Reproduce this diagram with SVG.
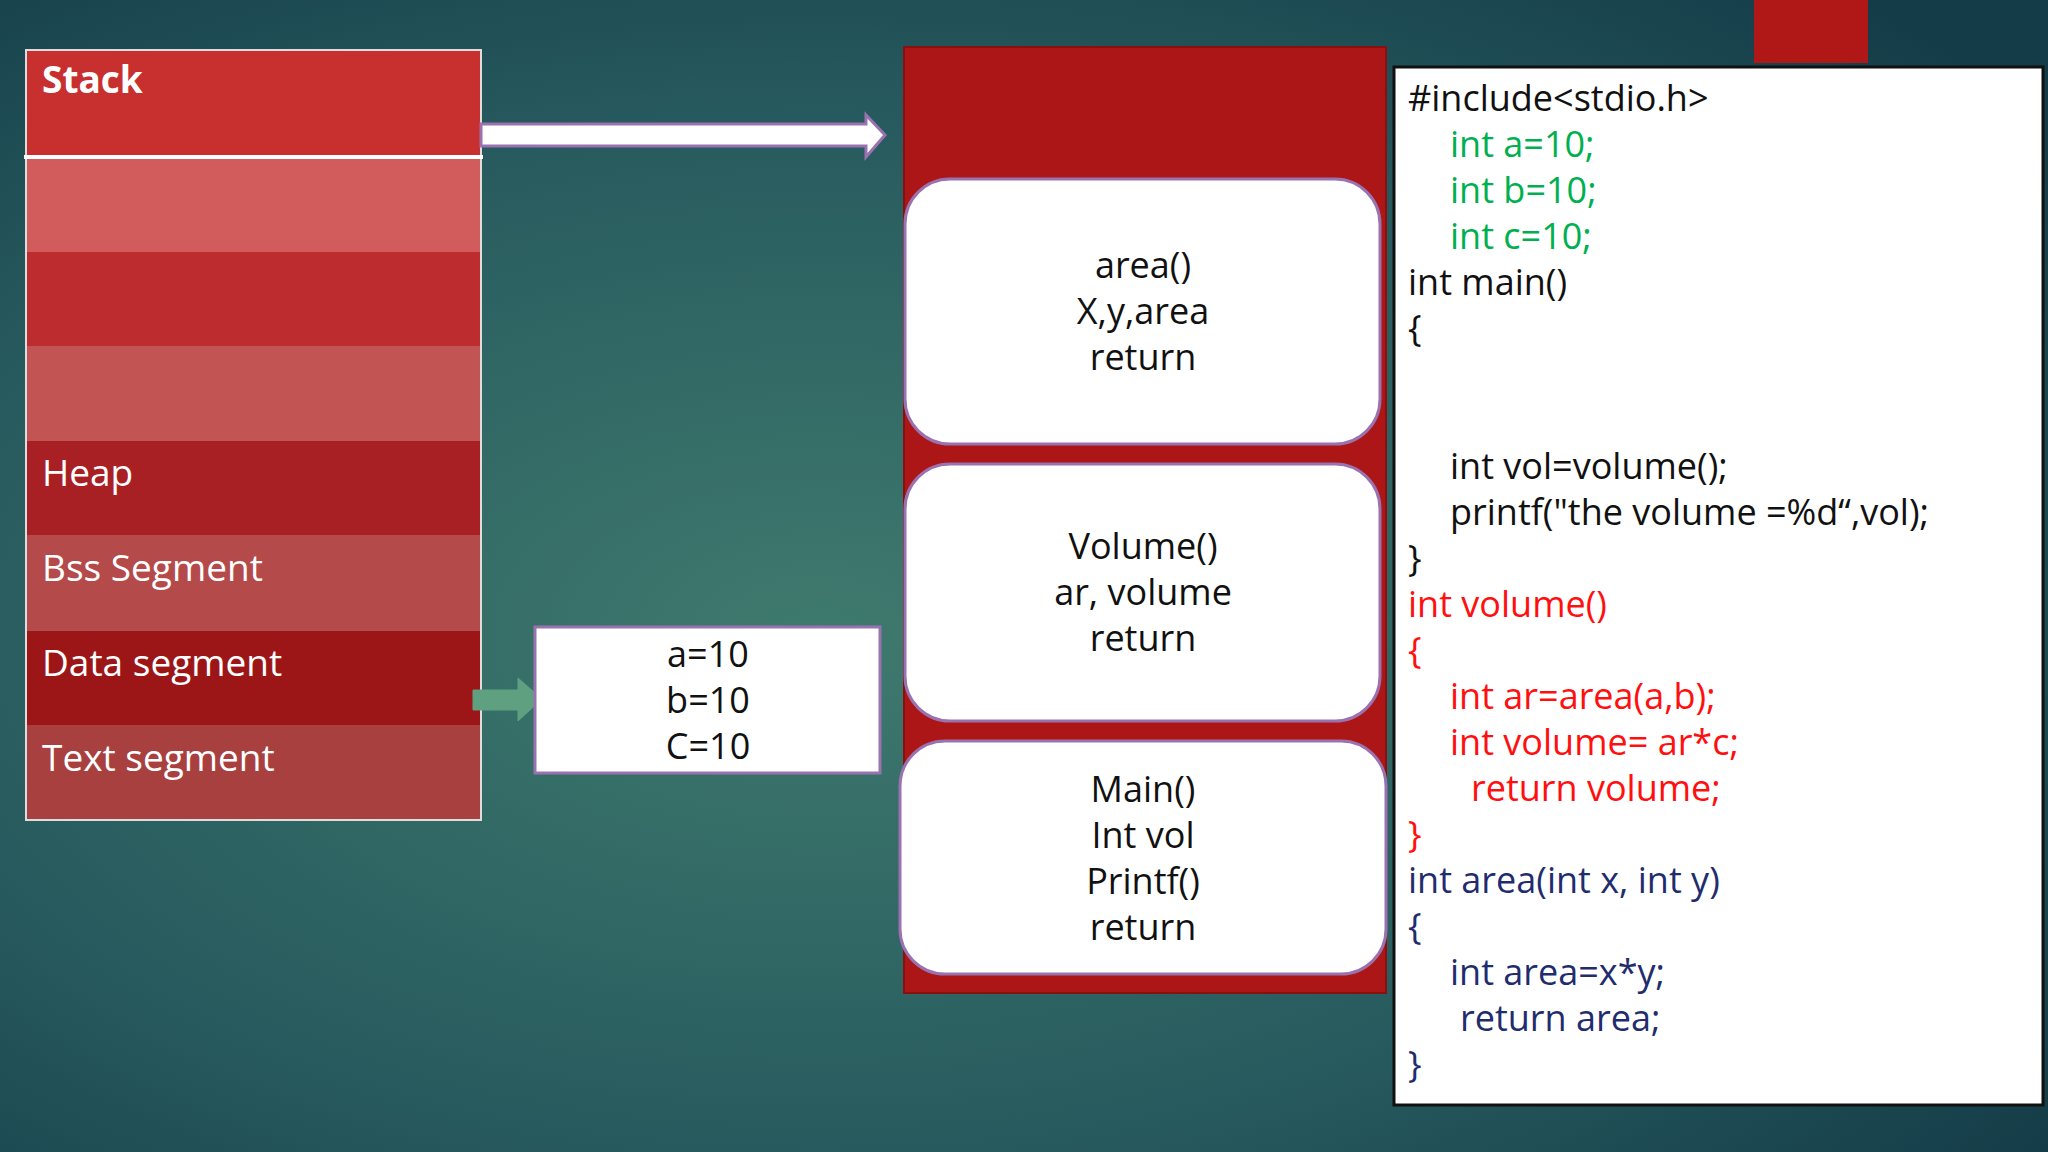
<svg xmlns="http://www.w3.org/2000/svg" width="2048" height="1152" viewBox="0 0 2048 1152">
<defs>
<radialGradient id="bg" cx="0.4" cy="0.55" r="0.75">
<stop offset="0" stop-color="#3f7a6e"/>
<stop offset="0.6" stop-color="#275a5e"/>
<stop offset="1" stop-color="#143c48"/>
</radialGradient>
<style>
text{font-family:"Open Sans","Noto Sans","Liberation Sans",sans-serif}
.seg{fill:#fff;font-size:37px}
.c{font-size:36px;text-anchor:middle;fill:#111}
.code{font-size:36px;fill:#111}
.g{fill:#00b050}.r{fill:#ff1010}
.rb{fill:#fff;stroke:#9a72b0;stroke-width:3}
</style>
</defs>
<rect width="2048" height="1152" fill="url(#bg)"/>
<rect x="1754" y="0" width="114" height="63" fill="#b01818"/>
<g id="memory">
<rect x="26" y="50" width="455" height="107" fill="#c83030"/>
<rect x="26" y="157" width="455" height="95" fill="#d25c5c"/>
<rect x="26" y="252" width="455" height="94" fill="#bd2c2e"/>
<rect x="26" y="346" width="455" height="95" fill="#c25454"/>
<rect x="26" y="441" width="455" height="94" fill="#a82024"/>
<rect x="26" y="535" width="455" height="96" fill="#b44a4a"/>
<rect x="26" y="631" width="455" height="94" fill="#9c1618"/>
<rect x="26" y="725" width="455" height="95" fill="#a84040"/>
<rect x="26" y="50" width="455" height="770" fill="none" stroke="#ddd" stroke-width="2"/>
<line x1="24" y1="157" x2="483" y2="157" stroke="#fff" stroke-width="4"/>
<text x="42" y="93" class="seg" font-weight="bold">Stack</text>
<text x="42" y="486" class="seg">Heap</text>
<text x="42" y="581" class="seg">Bss Segment</text>
<text x="42" y="676" class="seg">Data segment</text>
<text x="42" y="771" class="seg">Text segment</text>
</g>
<g id="connectors">
<polygon points="481,124 866,124 866,115 885,135 866,157 866,146 481,146" fill="#fff" stroke="#9a72b0" stroke-width="3"/>
<polygon points="473,690 518,690 518,678 542,699 518,721 518,710 473,710" fill="#5fa080" stroke="#5fa080"/>
</g>
<g id="data">
<rect x="535" y="627" width="345" height="146" fill="#fff" stroke="#9a72b0" stroke-width="3"/>
<text x="708" y="667" class="c">a=10</text>
<text x="708" y="713" class="c">b=10</text>
<text x="708" y="759" class="c">C=10</text>
</g>
<g id="stackframe">
<rect x="904" y="47" width="482" height="946" fill="#ad1616" stroke="#8a1010" stroke-width="2"/>
</g>
<g id="area">
<rect x="905" y="179" width="475" height="265" rx="45" class="rb"/>
<text x="1143" y="278" class="c">area()</text>
<text x="1143" y="324" class="c">X,y,area</text>
<text x="1143" y="370" class="c">return</text>
</g>
<g id="volume">
<rect x="905" y="464" width="475" height="257" rx="45" class="rb"/>
<text x="1143" y="559" class="c">Volume()</text>
<text x="1143" y="605" class="c">ar, volume</text>
<text x="1143" y="651" class="c">return</text>
</g>
<g id="main">
<rect x="900" y="741" width="486" height="233" rx="45" class="rb"/>
<text x="1143" y="802" class="c">Main()</text>
<text x="1143" y="848" class="c">Int vol</text>
<text x="1143" y="894" class="c">Printf()</text>
<text x="1143" y="940" class="c">return</text>
</g>
<g id="code">
<rect x="1394" y="67" width="649" height="1038" fill="#fff" stroke="#111" stroke-width="3"/>
<text x="1408" y="111" class="code">#include&lt;stdio.h&gt;</text>
<text x="1450" y="157" class="code g">int a=10;</text>
<text x="1450" y="203" class="code g">int b=10;</text>
<text x="1450" y="249" class="code g">int c=10;</text>
<text x="1408" y="295" class="code">int main()</text>
<text x="1408" y="341" class="code">{</text>
<text x="1450" y="479" class="code">int vol=volume();</text>
<text x="1450" y="525" class="code">printf("the volume =%d“,vol);</text>
<text x="1408" y="571" class="code">}</text>
<text x="1408" y="617" class="code r">int volume()</text>
<text x="1408" y="663" class="code r">{</text>
<text x="1450" y="709" class="code r">int ar=area(a,b);</text>
<text x="1450" y="755" class="code r">int volume= ar*c;</text>
<text x="1471" y="801" class="code r">return volume;</text>
<text x="1408" y="847" class="code r">}</text>
<text x="1408" y="893" class="code" fill="#1a2a6a" style="fill:#1f2d6e">int  area(int x, int y)</text>
<text x="1408" y="939" class="code" style="fill:#1f2d6e">{</text>
<text x="1450" y="985" class="code" style="fill:#1f2d6e">int area=x*y;</text>
<text x="1460" y="1031" class="code" style="fill:#1f2d6e">return area;</text>
<text x="1408" y="1077" class="code" style="fill:#1f2d6e">}</text>
</g>
</svg>
